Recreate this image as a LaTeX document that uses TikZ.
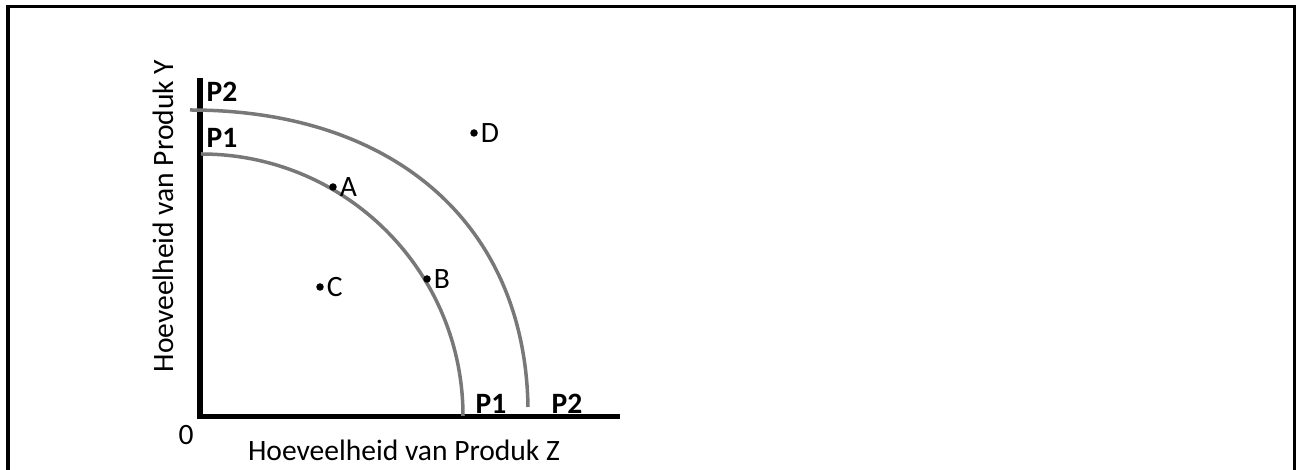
\documentclass[tikz,border=0pt]{standalone}
\usepackage{fontspec}
\setmainfont{Carlito}
\usetikzlibrary{positioning}
\definecolor{curvegray}{HTML}{787878}
\definecolor{ink}{HTML}{000000}

\begin{document}
\begin{tikzpicture}[x=0.01cm,y=0.01cm,
  font=\fontsize{8.4}{10}\selectfont,
  axisline/.style={draw=ink, line width=0.05cm},
  ppcurve/.style={draw=curvegray, line width=0.035cm},
  dot/.style={circle, fill=ink, inner sep=0pt, minimum size=0.075cm},
  ptlabel/.style={inner sep=0pt, text=ink},
  plabel/.style={inner sep=0pt, font=\fontsize{8.4}{10}\selectfont\bfseries}]
\useasboundingbox (0,0) rectangle (1302,470);
% frame
\draw[ink, line width=0.03cm] (8,0) -- (8,463) -- (1294,463) -- (1294,0);
% axes
\coordinate (origin) at (200,53);
\coordinate (ytop) at (200,392);
\coordinate (xend) at (620,53);
\draw[axisline] (ytop) -- (origin) -- (xend);
\node (zero) at (186,35) {0};
\node (xtitle) at (404,20) {Hoeveelheid van Produk Z};
\node[rotate=90] (ytitle) at (163,254) {Hoeveelheid van Produk Y};
% production possibility curves
\coordinate (p1start) at (201,316);
\coordinate (p2start) at (190,360);
\coordinate (p2end) at (528,63);
\draw[ppcurve] (p1start) arc (90:0:262);
\draw[ppcurve] (p2start) .. controls (395,360) and (525,245) .. (p2end);
\node[plabel] (p2y) at (222,378) {P2};
\node[plabel] (p1y) at (222,332) {P1};
\node[plabel] (p1x) at (491,66) {P1};
\node[plabel] (p2x) at (567,66) {P2};
% points
\node[dot] (ptA) at (333,283) {};
\node[dot] (ptB) at (427,191) {};
\node[dot] (ptC) at (320,183) {};
\node[dot] (ptD) at (474,337) {};
\node[ptlabel, right=0.5pt of ptA] {A};
\node[ptlabel, right=0.5pt of ptB] {B};
\node[ptlabel, right=0.5pt of ptC] {C};
\node[ptlabel, right=0.5pt of ptD] {D};
\end{tikzpicture}
\end{document}
